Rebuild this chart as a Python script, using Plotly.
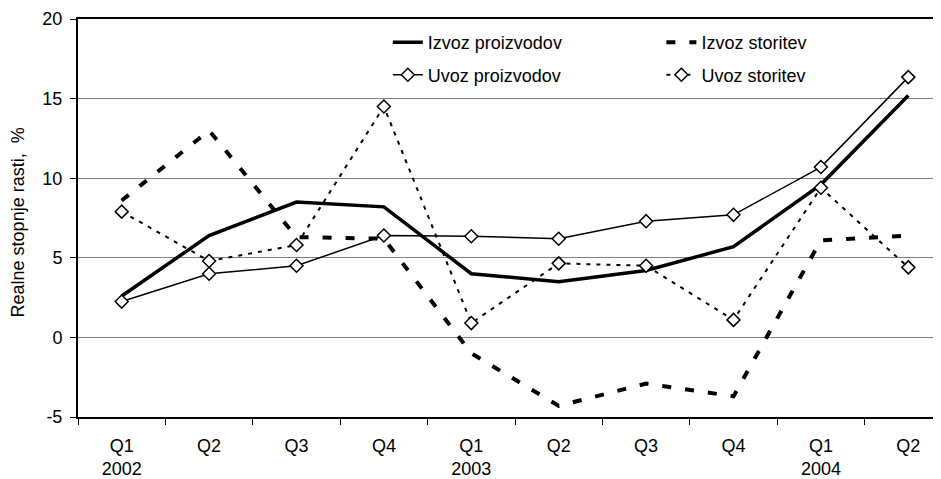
import plotly.graph_objects as go

quarters = ["Q1", "Q2", "Q3", "Q4", "Q1", "Q2", "Q3", "Q4", "Q1", "Q2"]
years = ["2002", "", "", "", "2003", "", "", "", "2004", ""]

izvoz_proizvodov = [2.6, 6.4, 8.5, 8.2, 4.0, 3.5, 4.2, 5.7, 9.6, 15.2]
izvoz_storitev = [8.6, 13.0, 6.3, 6.2, -1.0, -4.3, -2.9, -3.7, 6.1, 6.4]
uvoz_proizvodov = [2.25, 4.0, 4.5, 6.4, 6.35, 6.2, 7.3, 7.7, 10.7, 16.35]
uvoz_storitev = [7.9, 4.8, 5.8, 14.5, 0.9, 4.65, 4.5, 1.1, 9.4, 4.4]

y_ticks = [-5, 0, 5, 10, 15, 20]
y_ticktext = ["-5", "0", "5", "10", "15", "20"]

xs = list(range(len(quarters)))
ticktext = [q + ("<br>" + y if y else "") for q, y in zip(quarters, years)]
boundaries = [i - 0.5 for i in range(len(quarters) + 1)]

FONT = "Liberation Sans, Arial, sans-serif"
marker_style = dict(symbol="diamond", size=10, color="white",
                    line=dict(color="black", width=1.5))

fig = go.Figure()
fig.add_trace(go.Scatter(x=xs, y=izvoz_proizvodov, mode="lines",
                         name="Izvoz proizvodov",
                         line=dict(color="black", width=3.5),
                         legend="legend", legendgroup="a"))
fig.add_trace(go.Scatter(x=xs, y=izvoz_storitev, mode="lines",
                         name="Izvoz storitev",
                         line=dict(color="black", width=4, dash="9px,14px"),
                         legend="legend2", legendgroup="b"))
fig.add_trace(go.Scatter(x=xs, y=uvoz_proizvodov, mode="lines+markers",
                         name="Uvoz proizvodov",
                         line=dict(color="black", width=1.5),
                         marker=marker_style,
                         legend="legend", legendgroup="c"))
fig.add_trace(go.Scatter(x=xs, y=uvoz_storitev, mode="lines+markers",
                         name="Uvoz storitev",
                         line=dict(color="black", width=2, dash="4px,6px"),
                         marker=marker_style,
                         legend="legend2", legendgroup="d"))

# the page body has an 8px default margin, so the figure is sized to fit
fig.update_layout(
    width=933, height=471,
    margin=dict(l=70, r=0, t=11, b=62),
    plot_bgcolor="white", paper_bgcolor="white",
    font=dict(family=FONT, size=18, color="black"),
    showlegend=True,
    legend=dict(x=0.359, y=0.987, xanchor="left", yanchor="top",
                bgcolor="rgba(0,0,0,0)", tracegroupgap=6,
                traceorder="grouped", font=dict(size=18)),
    legend2=dict(x=0.676, y=0.987, xanchor="left", yanchor="top",
                 bgcolor="rgba(0,0,0,0)", tracegroupgap=6,
                 traceorder="grouped", font=dict(size=18)),
)

fig.update_xaxes(
    range=[-0.5, 9.374], automargin=False,
    tickmode="array", tickvals=xs, ticktext=ticktext,
    ticks="", showgrid=False, zeroline=False,
    showline=True, linecolor="black", linewidth=2, mirror=True,
    ticklabelstandoff=11,
    minor=dict(tickmode="array", tickvals=boundaries, ticks="outside",
               ticklen=6, tickcolor="black", tickwidth=1, showgrid=False),
)
fig.update_yaxes(
    range=[-5, 20], automargin=False,
    tickmode="array", tickvals=y_ticks, ticktext=y_ticktext,
    ticks="outside", ticklen=6, tickcolor="black", tickwidth=1,
    showgrid=True, gridcolor="#808080", gridwidth=1, zeroline=False,
    showline=True, linecolor="black", linewidth=2,
    ticklabelstandoff=4,
)

fig.add_annotation(text="Realne stopnje rasti,  %", textangle=-90,
                   xref="paper", yref="paper", x=-0.069, y=0.49,
                   xanchor="center", yanchor="middle", showarrow=False,
                   font=dict(size=18))

fig.write_html("out.html")
